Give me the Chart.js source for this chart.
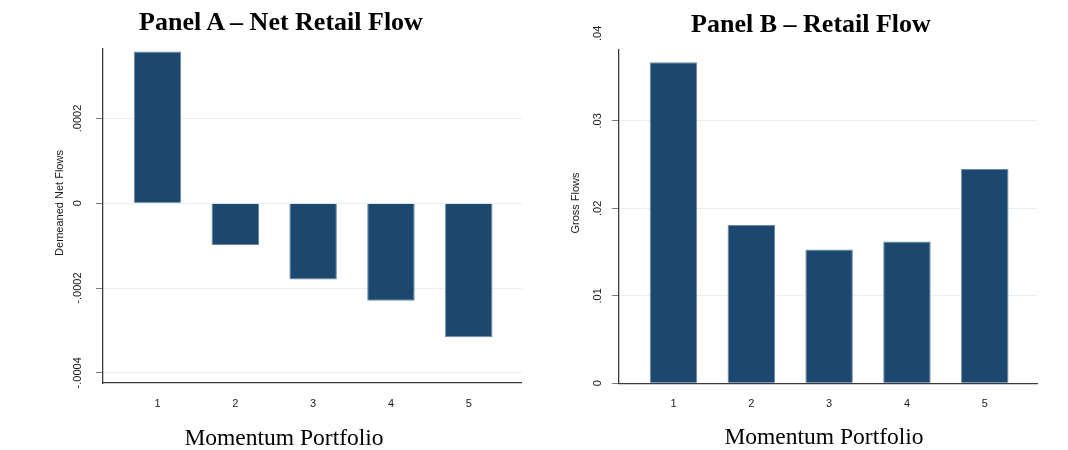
<!DOCTYPE html>
<html>
<head>
<meta charset="utf-8">
<title>Momentum Portfolio – Retail Flows</title>
<script src="https://cdn.jsdelivr.net/npm/chart.js@4.4.1/dist/chart.umd.min.js"></script>
<style>
  html, body { margin: 0; padding: 0; background: #fff; }
  #page { position: relative; width: 1068px; height: 450px; overflow: hidden; }
  canvas { position: absolute; top: 0; }
  .caption {
    position: absolute; white-space: nowrap; line-height: 1;
    font-family: "Liberation Serif", "Times New Roman", serif; color: #000;
    transform: translateX(-50%);
  }
  .panel-title { font-size: 26px; font-weight: bold; }
  .axis-caption { font-size: 23.5px; }
</style>
</head>
<body>
<div id="page">
  <canvas id="chart-net" width="534" height="450" style="left:0"></canvas>
  <canvas id="chart-gross" width="534" height="450" style="left:534px"></canvas>
  <div class="caption panel-title" style="left:281px; top:9px">Panel A – Net Retail Flow</div>
  <div class="caption panel-title" style="left:811px; top:11px">Panel B – Retail Flow</div>
  <div class="caption axis-caption" style="left:284px; top:426px">Momentum Portfolio</div>
  <div class="caption axis-caption" style="left:824px; top:425px">Momentum Portfolio</div>
</div>
<script>
// momentum portfolios (1 = losers ... 5 = winners)
const portfolios = [1, 2, 3, 4, 5];

// Panel A: demeaned net retail flows
const netFlows = [0.000358, -0.0000985, -0.00018, -0.00023, -0.000316];
const netTicks = [-0.0004, -0.0002, 0, 0.0002];
const netTickLabels = ['-.0004', '-.0002', '0', '.0002'];

// Panel B: gross retail flows
const grossFlows = [0.0367, 0.0181, 0.0153, 0.0162, 0.0245];
const grossTicks = [0, 0.01, 0.02, 0.03, 0.04];
const grossTickLabels = ['0', '.01', '.02', '.03', '.04'];

const BAR_FILL = '#1C4870';
const BAR_EDGE = '#6A88A6';
const AXIS_COLOR = '#3C3C3C';
const GRID_COLOR = '#E8F0F1';
const TEXT_COLOR = '#1A1A1A';

// Stata-style y axis text: labels rotated, centred on their tick
const yAxisText = {
  id: 'yAxisText',
  afterDraw(chart, args, opts) {
    const ctx = chart.ctx;
    const scale = chart.scales.y;
    ctx.save();
    ctx.fillStyle = TEXT_COLOR;
    ctx.textAlign = 'center';
    ctx.textBaseline = 'middle';
    ctx.font = '11px "Liberation Sans", Arial, sans-serif';
    opts.ticks.forEach((v, i) => {
      ctx.save();
      ctx.translate(opts.tickX, scale.getPixelForValue(v));
      ctx.rotate(-Math.PI / 2);
      ctx.fillText(opts.labels[i], 0, 0);
      ctx.restore();
    });
    ctx.translate(opts.titleX, opts.titleY);
    ctx.rotate(-Math.PI / 2);
    ctx.fillText(opts.title, 0, 0);
    ctx.restore();
  },
};

function renderPanel(canvasId, values, yTicks, yLabels, cfg) {
  const ctx = document.getElementById(canvasId).getContext('2d');
  return new Chart(ctx, {
    type: 'bar',
    data: {
      datasets: [{
        data: portfolios.map((p, i) => ({ x: p, y: values[i] })),
        backgroundColor: BAR_FILL,
        borderColor: BAR_EDGE,
        borderWidth: 1,
        barPercentage: 0.61,
        categoryPercentage: 1,
      }],
    },
    options: {
      responsive: false,
      animation: false,
      events: [],
      layout: { padding: cfg.padding },
      plugins: {
        legend: { display: false },
        tooltip: { enabled: false },
        yAxisText: {
          ticks: yTicks,
          labels: yLabels,
          tickX: cfg.tickX,
          title: cfg.title,
          titleX: cfg.titleX,
          titleY: 203,
        },
      },
      scales: {
        x: {
          type: 'linear',
          min: 0.3,
          max: 5.68,
          offset: false,
          grid: { display: false, offset: false },
          border: { display: true, color: AXIS_COLOR, width: 1.3 },
          ticks: {
            color: TEXT_COLOR,
            padding: 6,
            font: { family: '"Liberation Sans", Arial, sans-serif', size: 11 },
          },
          afterBuildTicks(scale) {
            scale.ticks = portfolios.map(v => ({ value: v }));
          },
          afterFit(scale) { scale.height = cfg.xHeight; },
        },
        y: {
          min: cfg.yMin,
          max: cfg.yMax,
          grid: { color: GRID_COLOR, lineWidth: 1, tickColor: '#7A7A7A', tickLength: 7 },
          border: { display: true, color: AXIS_COLOR, width: 1.3 },
          ticks: { display: false },
          afterBuildTicks(scale) {
            scale.ticks = yTicks
              .filter(v => v >= cfg.yMin && v <= cfg.yMax)
              .map(v => ({ value: v }));
          },
          afterFit(scale) { scale.width = 10; },
        },
      },
    },
    plugins: [yAxisText],
  });
}

renderPanel('chart-net', netFlows, netTicks, netTickLabels, {
  padding: { left: 93, right: 12.3, top: 49, bottom: 0 },
  xHeight: 67,
  yMin: -0.000424,
  yMax: 0.000364,
  tickX: 78,
  title: 'Demeaned Net Flows',
  titleX: 59.5,
});

renderPanel('chart-gross', grossFlows, grossTicks, grossTickLabels, {
  padding: { left: 75, right: 30.3, top: 50, bottom: 0 },
  xHeight: 66.7,
  yMin: 0,
  yMax: 0.0381,
  tickX: 64,
  title: 'Gross Flows',
  titleX: 42,
});
</script>
</body>
</html>
